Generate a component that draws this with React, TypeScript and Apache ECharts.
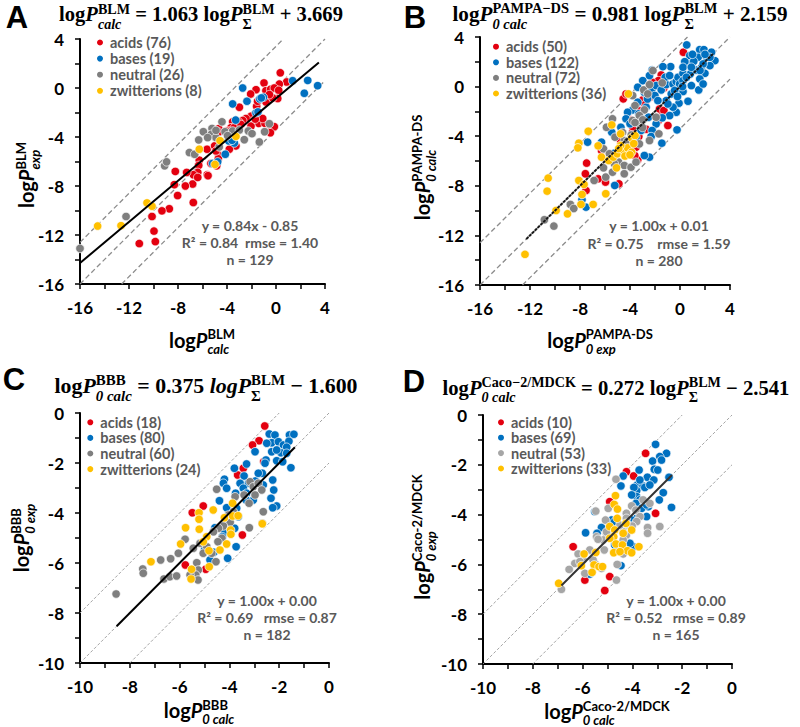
import React, { useEffect, useRef } from 'react';
import * as echarts from 'echarts';

// ---------------- DATA ----------------
// Panel A  (x: logP calc BLM, y: logP exp BLM)
const aAcids = [[0.35,1.24],[0.87,0.49],[0.27,0.32],[-0.98,0.41],[-1.63,-0.14],[-2.07,-0.49],[-0.82,-0.22],[-0.44,-0.11],[-0.14,0],[0.22,-0.19],[0.14,-0.86],[-0.82,-1.14],[-1.58,-1.49],[-2.99,-1.57],[-2.04,-2.3],[-2.45,-2.49],[-2.72,-2.65],[-3.05,-2.76],[-3.54,-2.76],[-3.67,-3.24],[-3.81,-3.51],[-3.4,-3.24],[-2.86,-2.97],[-1.41,-2.89],[-0.9,-2.89],[-0.46,-3.05],[-0.14,-3.16],[-0.46,-3.65],[-2.04,-3.11],[-3.92,-3.78],[-4.68,-3.32],[-4.68,-3.59],[-4.08,-3.51],[-5.63,-5],[-5.01,-4.73],[-4.68,-5.46],[-4.71,-5.78],[-4.84,-6.35],[-5.31,-6.16],[-3.27,-4.73],[-3.81,-5],[-6.26,-5.89],[-6.31,-6.32],[-6.39,-6.89],[-6.75,-7.08],[-6.8,-7.84],[-7.29,-6.89],[-5.61,-7.08],[-5.55,-7.16],[-8.22,-6.81],[-8.3,-7.89],[-8.03,-8.78],[-7.4,-8],[-6.75,-9.35],[-8.71,-9.86],[-9.31,-10.03],[-10.12,-10.49],[-9.96,-11.68],[-9.85,-12.54],[-11.16,-12.7],[-1.09,-2.49],[-0.27,-0.81],[-0.54,-0.54],[-1.69,-2.54],[-4.9,-5.14],[-6.39,-7.3],[-1.5,-1.08]];
const aBases = [[-2.72,0],[-3.54,-1.3],[-2.37,-1.08],[-1.33,-0.89],[-1.03,-0.76],[-1.63,-2.03],[-3.29,-2.62],[-3.4,-4.49],[-4.14,-5.41],[-5.17,-6.16],[-4.76,-6.03],[1.36,0.59],[2.59,0.62],[2.31,-0.43],[3.4,0.19],[-3.86,-4.32],[-1.2,-0.81],[-3.59,-4.27],[-1.47,-1.95]];
const aNeutral = [[-16,-13.1],[-12.24,-10.49],[-9.09,-6.35],[-8.93,-6.03],[-7.07,-5.27],[-6.64,-5.41],[-6.31,-4.24],[-5.93,-3.57],[-5.22,-3.3],[-5.28,-3.78],[-4.41,-2.76],[-4.16,-3.57],[-3.54,-3.51],[-2.99,-3.43],[-2.59,-4.22],[-2.26,-3.51],[-1.96,-3.73],[-1.36,-4.41],[-0.93,-3.57],[-0.54,-2.92],[-4.9,-4.05],[-4.63,-4.81],[-3.95,-3.89],[-4.9,-3.46],[-5.58,-4.05]];
const aZwit = [[-14.56,-11.27],[-12.65,-11.24],[-10.53,-9.38],[-10.12,-9.65],[-6.26,-5],[-4.57,-4.3],[-3.27,-3.95],[-4.98,-6.24]];
const aFit = [[-16,-14.29],[3.5,2.09]];
const aBand = 3.4;
const aNames = ['acids (76)','bases (19)','neutral (26)','zwitterions (8)'];
const aStats = ['y = 0.84x - 0.85','R² = 0.84\u00a0 rmse = 1.40','n = 129'];

// Panel B  (x: logP0 exp PAMPA-DS, y: logP0 calc PAMPA-DS)
const bAcids = [[0.27,2.77],[-1.5,0.94],[-1.72,0.48],[-2.23,0.35],[-1.29,-0.11],[-2.98,-1.07],[-4.54,-0.99],[-4.32,-0.59],[-3.97,-2.68],[-3.25,-1.93],[-2.79,-1.45],[-2.71,-3.44],[-3.79,-3.68],[-3.3,-4.03],[-3.52,-4.89],[-3.38,-5.91],[-3.62,-5.56],[-7.47,-6.17],[-7.57,-7.03],[-7.52,-8.38],[-6.28,-5.15],[-5.96,-7.7],[-4.89,-7.84],[-1.37,-2.2],[-1.72,-2.74],[-0.97,-3.14],[-1.64,-1.8],[-4.75,-4.35],[-4.35,-4.75],[-3.79,-3.22],[-2.77,-0.59],[-2.44,-0.86],[-1.29,-1.93],[-6.55,-7.44],[-4.05,-2.74]];
const bBases = [[0.54,3.36],[1.58,2.98],[1.91,2.98],[2.52,2.77],[2.79,2.09],[2.12,2.36],[1.45,2.36],[0.78,2.5],[0.64,1.83],[0.38,2.01],[-0.75,1.61],[-1.37,1.61],[-2.23,1.34],[-2.44,0.89],[-2.98,0.48],[-3.38,-0.05],[-2.85,-0.46],[-2.26,-0.24],[-1.91,0.08],[-1.5,-0.27],[-1.1,0.16],[-0.56,0.21],[-0.3,0.4],[-0.16,0.75],[0.24,1.07],[0.83,1.02],[1.32,1.34],[1.72,1.56],[1.99,1.07],[2.39,1.69],[1.58,0.62],[1.5,-0.27],[0.64,-1.18],[-0.08,-1.34],[-0.3,-2.07],[-0.83,-2.34],[-1.42,-2.52],[-1.91,-3.01],[-2.23,-3.54],[-2.31,-4.03],[-1.45,-4.56],[-0.24,-3.49],[0.24,-0.4],[0.91,0.08],[-0.56,-1.66],[-1.1,-1.13],[-0.7,-0.59],[-2.71,-1.66],[-3.38,-1.26],[-3.79,-1.88],[-4.19,-2.07],[-4.73,-3.28],[-5.46,-3.68],[-5.25,-5.37],[-4.32,-2.6],[-2.98,-2.6],[-2.44,-5.69],[-2.85,-5.56],[-6.28,-4.48],[-7.39,-4.48],[-7.84,-9.13],[-7.52,-9.72],[-5.22,-7.97],[-3.52,-4.08],[-3.11,-3.54],[1.85,1.83],[1.1,2.04],[0.24,1.56],[-1.18,0.75],[-2.01,-0.72],[2.39,2.36],[0.91,1.56],[-0.03,0.21],[0.24,0.48],[-0.83,0.89],[-0.43,-0.32],[1.85,0.21],[0.51,0.75],[-0.97,-1.4],[-1.77,-1.13],[-2.52,-2.47],[-4.0,-3.0],[-3.3,-2.2],[-2.6,-1.0],[1.0,2.6],[2.0,2.6],[1.6,1.3],[0.2,0.0],[-0.2,-0.8]];
const bNeutral = [[-2.17,1.29],[-1.42,0.3],[-2.9,-0.27],[-3.79,-0.72],[-3.6,-1.53],[-2.85,-1.88],[-3.25,-2.34],[-3.79,-2.74],[-5.4,-2.6],[-5.88,-3.28],[-5.2,-4.08],[-4.46,-4.35],[-3.25,-4.62],[-2.44,-4.35],[-1.69,-3.81],[-6.12,-5.02],[-5.4,-5.69],[-6.12,-6.55],[-5.94,-7.3],[-5.4,-6.9],[-4.91,-6.09],[-4.46,-6.36],[-3.92,-6.5],[-4.46,-7.03],[-6.87,-7.57],[-8.77,-9.5],[-8.5,-9.83],[-10.85,-10.74],[-10.09,-11.25],[-4.81,-5.29],[-3.25,-3.01],[-2.98,-2.68],[-4.05,-5.37],[-3.52,-6.09],[-5.25,-6.23],[-5.65,-5.42],[-1.91,-2.47],[-2.44,0.16],[-2.58,-0.59],[-4.2,-4.4],[-3.9,-3.9],[-4.6,-3.7],[-3.0,-3.3],[-3.6,-2.9]];
const bZwit = [[-4.13,-0.59],[-5.46,-3.09],[-4.75,-3.81],[-7.34,-3.6],[-8.09,-4.56],[-8.17,-4.94],[-6.55,-4.78],[-6.28,-5.69],[-5.7,-5.96],[-5.34,-5.69],[-5.03,-5.42],[-4.56,-5.1],[-4.19,-4.94],[-3.87,-5.29],[-3.87,-4.13],[-3.6,-3.95],[-10.55,-7.38],[-10.63,-8.43],[-9.91,-9.99],[-9,-10.26],[-8.09,-7.57],[-7.68,-7.89],[-7.84,-8.7],[-7.92,-9.5],[-6.95,-9.5],[-5.94,-8.64],[-12.4,-13.53],[-5.08,-6.55],[-4.75,-4.75],[-4.4,-5.6],[-4.0,-5.5],[-3.7,-4.6],[-4.9,-5.0]];
const bFit = [[-12.3,-12.3],[2.7,2.7]];
const bBand = 3.4;
const bNames = ['acids (50)','bases (122)','neutral (72)','zwitterions (36)'];
const bStats = ['y = 1.00x + 0.01','R² = 0.75\u00a0\u00a0\u00a0 rmse = 1.59','n = 280'];

// Panel C  (x: logP0 calc BBB, y: logP0 exp BBB)
const cAcids = [[-2.58,-0.52],[-2.81,-1.11],[-3.07,-1.28],[-2.62,-1.95],[-3.44,-2.21],[-3.67,-2.48],[-5.05,-3.72],[-5.49,-3.99],[-3.48,-4.88],[-5.77,-6.08],[-4.95,-6.25]];
const cBases = [[-2.4,-0.84],[-2.17,-0.88],[-1.59,-0.88],[-1.41,-0.85],[-2.3,-1.19],[-2.03,-1.15],[-1.83,-1.28],[-1.61,-1.13],[-1.7,-1.37],[-1.93,-1.59],[-2.3,-1.55],[-2.53,-1.88],[-2.1,-1.91],[-1.86,-1.95],[-1.53,-2.19],[-2.97,-1.55],[-3.31,-2.04],[-3.41,-2.52],[-2.68,-2.41],[-2.95,-2.72],[-3.24,-2.81],[-3.57,-2.81],[-3.8,-2.21],[-4.2,-2.65],[-4.24,-2.81],[-4.11,-3.01],[-3.75,-3.21],[-3.44,-3.01],[-3.31,-3.21],[-3.04,-3.48],[-2.26,-2.68],[-2.22,-3.08],[-2.64,-2.88],[-2.33,-3.41],[-2.1,-3.72],[-2.26,-3.79],[-4.4,-3.51],[-4.11,-3.79],[-3.71,-3.81],[-3.64,-4.15],[-4.58,-4.59],[-3.79,-4.61],[-4.19,-4.77],[-4.28,-4.95],[-4.07,-5.81],[-3.73,-5.35],[-4.62,-5.57],[-4.99,-5.45],[-4.78,-5.88],[-3.33,-3.48],[-2.57,-2.01],[-2.1,-1.48],[-1.7,-1.61],[-2.5,-1.21],[-2.84,-2.41]];
const cNeutral = [[-4.51,-3.05],[-3.77,-3.35],[-3.17,-2.75],[-3.04,-2.95],[-2.84,-2.81],[-2.7,-3.08],[-2.97,-3.28],[-3.21,-3.61],[-2.64,-3.95],[-2.68,-4.41],[-3.41,-3.28],[-3.84,-3.95],[-4.04,-4.08],[-3.97,-4.37],[-4.24,-4.52],[-4.44,-4.61],[-4.64,-4.75],[-4.3,-5.01],[-4.46,-5.15],[-4.91,-5.35],[-5.18,-5.21],[-5.45,-5.41],[-4.71,-5.61],[-4.54,-5.95],[-5.05,-5.61],[-5.31,-5.99],[-5.25,-6.28],[-5.35,-6.48],[-5.58,-6.48],[-5.78,-5.05],[-6.05,-5.61],[-6.36,-5.83],[-6.76,-5.88],[-7.48,-6.24],[-7.46,-6.41],[-6.63,-6.64],[-6.39,-6.55],[-6.12,-6.52],[-5.26,-6.68],[-8.55,-7.24],[-3.2,-4.59]];
const cZwit = [[-4.65,-3.88],[-5.22,-3.99],[-5.22,-4.25],[-5.76,-4.59],[-5.21,-4.65],[-5.96,-5.24],[-4.91,-4.95],[-5.05,-5.15],[-4.82,-5.51],[-4.38,-5.48],[-4.11,-5.24],[-3.95,-4.68],[-3.94,-4.85],[-4.2,-4.19],[-3.87,-4.12],[-3.65,-4.11],[-3.87,-3.61],[-5.52,-6.25],[-5.54,-6.64],[-4.81,-6.15],[-2.68,-4.43],[-7.15,-5.95]];
const cFit = [[-8.53,-8.53],[-1.37,-1.37]];
const cBand = 2;
const cNames = ['acids (18)','bases (80)','neutral (60)','zwitterions (24)'];
const cStats = ['y = 1.00x + 0.00','R² = 0.69\u00a0\u00a0 rmse = 0.87','n = 182'];

// Panel D  (x: logP0 calc Caco-2/MDCK, y: logP0 exp Caco-2/MDCK)
const dAcids = [[-3.47,-1.54],[-4.24,-2.28],[-3.95,-2.45],[-4.91,-3.48],[-3.07,-3.95],[-6.38,-5.29],[-5.91,-6.63],[-4.91,-6.49],[-5.11,-7.05]];
const dBases = [[-3.07,-1.18],[-2.63,-1.54],[-2.9,-1.67],[-3.19,-1.85],[-2.83,-1.81],[-3.73,-2.21],[-3.12,-2.18],[-2.98,-2.21],[-4.37,-2.45],[-2.53,-2.5],[-3.4,-2.5],[-3.81,-2.81],[-3.57,-2.85],[-3.14,-2.61],[-2.76,-3.12],[-4.46,-2.85],[-3.83,-3.04],[-3.83,-3.28],[-3.7,-3.41],[-3.86,-3.55],[-2.92,-3.41],[-2.43,-3.71],[-3.36,-3.68],[-3.63,-3.75],[-3.43,-4.08],[-3.83,-4.15],[-4.03,-4.22],[-4.84,-4.22],[-5.24,-4.52],[-5.51,-3.88],[-5.42,-4.75],[-5.88,-4.73],[-4.71,-4.48],[-4.71,-5.22],[-3.97,-5.29],[-4.46,-6.05],[-5.71,-6.39],[-3.43,-3.61],[-3.94,-2.91],[-3.5,-2.91],[-3.3,-2.81],[-3.7,-2.61],[-4.03,-3.21],[-4.71,-4.28],[-4.1,-5.15]];
const dNeutral = [[-4.66,-2.58],[-4.97,-3.75],[-5.47,-3.86],[-5.08,-4.22],[-5.04,-4.78],[-4.24,-3.95],[-4.03,-3.65],[-3.86,-3.82],[-3.57,-3.41],[-3.3,-3.55],[-3.7,-4.08],[-4.17,-4.42],[-4.37,-4.69],[-4.24,-4.82],[-3.83,-4.28],[-3.39,-4.52],[-3.39,-4.75],[-2.9,-4.48],[-5.44,-4.89],[-4.88,-4.75],[-5.17,-5.02],[-4.37,-5.58],[-4.61,-6.0],[-6.18,-5.58],[-5.98,-5.82],[-6.31,-5.96],[-6.54,-6.2],[-5.91,-6.36],[-5.51,-5.96],[-5.24,-6.16],[-5.13,-5.42],[-4.64,-6.63],[-6.85,-7.0],[-4.24,-4.15],[-4.01,-4.46],[-4.5,-4.42],[-4.37,-5.02],[-5.38,-4.99],[-5.71,-5.42],[-6.11,-5.89],[-5.58,-5.82],[-5.04,-4.69]];
const dZwit = [[-4.68,-3.24],[-4.73,-3.59],[-4.6,-3.78],[-4.61,-4.15],[-4.91,-4.48],[-4.26,-4.35],[-4.03,-4.62],[-4.71,-4.62],[-4.75,-4.89],[-4.66,-5.18],[-4.4,-5.22],[-3.74,-5.29],[-4.2,-5.45],[-4.03,-5.53],[-4.75,-5.53],[-5.94,-5.58],[-5.47,-5.52],[-6.05,-6.05],[-5.54,-6.02],[-5.34,-6.09],[-5.2,-6.09],[-5.62,-6.32],[-6.96,-6.76],[-4.5,-5.49],[-4.91,-4.95],[-4.37,-4.75]];
const dFit = [[-6.85,-6.85],[-2.41,-2.41]];
const dBand = 2;
const dNames = ['acids (10)','bases (69)','neutral (53)','zwitterions (33)'];
const dStats = ['y = 1.00x + 0.00','R² = 0.52\u00a0\u00a0 rmse = 0.89','n = 165'];

// ---------------- STYLE / LAYOUT ----------------
const SANS = 'Lato';
const SERIF = '"Liberation Serif"';
const RED = '#e3000f';
const BLUE = '#0070c0';
const YELLOW = '#ffc000';

type Piece = { t: string; f: string; dy?: number; stack?: boolean; fill?: string };

function buildOption() {
  const ctx = document.createElement('canvas').getContext('2d') as CanvasRenderingContext2D;
  const tw = (t: string, f: string) => { ctx.font = f; return ctx.measureText(t).width; };

  const row = (pieces: Piece[]) => {
    let x = 0; let pend = 0; const children: any[] = [];
    for (const p of pieces) {
      const w = tw(p.t, p.f);
      children.push({
        type: 'text', x, y: p.dy || 0, silent: true,
        style: { text: p.t, font: p.f, fill: p.fill || '#000', textAlign: 'left', textVerticalAlign: 'middle', align: 'left', verticalAlign: 'middle' },
      });
      if (p.stack) pend = Math.max(pend, w);
      else { x += Math.max(pend, w); pend = 0; }
    }
    return { children, width: x };
  };
  const rowGroup = (pieces: Piece[], cx: number, cy: number, targetW?: number, rotate?: boolean) => {
    const { children, width } = row(pieces);
    const s = targetW ? targetW / width : 1;
    if (rotate) return { type: 'group', x: cx, y: cy + (width * s) / 2, rotation: Math.PI / 2, scaleX: s, scaleY: s, children };
    return { type: 'group', x: cx - (width * s) / 2, y: cy, scaleX: s, scaleY: s, children };
  };

  const TM = `bold 19px ${SERIF}`, TMI = `italic bold 19px ${SERIF}`, TS = `bold 13px ${SERIF}`, TSI = `italic bold 13px ${SERIF}`;
  const titlePieces = (sup: string, sub: string, coef: string, tail: string, italicLog = false): Piece[] => [
    { t: 'log', f: TM }, { t: 'P', f: TMI },
    { t: sup, f: TS, dy: -5, stack: true }, { t: sub, f: TSI, dy: 9 },
    { t: ` = ${coef} `, f: TM },
    { t: 'log', f: italicLog ? TMI : TM }, { t: 'P', f: TMI },
    { t: 'BLM', f: TS, dy: -5, stack: true }, { t: 'Σ', f: TS, dy: 9 },
    { t: tail, f: TM },
  ];
  const AM = `bold 20px ${SANS}`, AMI = `italic bold 20px ${SANS}`, AS = `bold 13px ${SANS}`, ASI = `italic bold 13px ${SANS}`;
  const axisPieces = (sup: string, sub: string): Piece[] => [
    { t: 'log', f: AM }, { t: 'P', f: AMI },
    { t: sup, f: AS, dy: -5.5, stack: true }, { t: sub, f: ASI, dy: 9 },
  ];

  const panels = [
    { grid: { left: 80, top: 39, width: 245, height: 245 }, min: -16, max: 4, step: 2, lab: 4,
      data: [aAcids, aBases, aNeutral, aZwit], names: aNames, gray: '#7f7f7f', fit: aFit, fitColor: '#000', fitType: 'solid' as any,
      band: aBand, bandColor: '#8c8c8c', bandW: 1.3, bandDash: [5, 3],
      legend: { x: 99, y: 42.5, lh: 16.1 }, stats: { x: 250, y: 225, lines: aStats } },
    { grid: { left: 480, top: 37, width: 250, height: 248 }, min: -16, max: 4, step: 2, lab: 4,
      data: [bAcids, bBases, bNeutral, bZwit], names: bNames, gray: '#7f7f7f', fit: bFit, fitColor: '#1a1a1a', fitType: [3, 1] as any,
      band: bBand, bandColor: '#8c8c8c', bandW: 1.3, bandDash: [5, 3],
      legend: { x: 495, y: 46.7, lh: 15.6 }, stats: { x: 659, y: 225.7, lines: bStats } },
    { grid: { left: 80, top: 413, width: 249, height: 250 }, min: -10, max: 0, step: 1, lab: 2,
      data: [cAcids, cBases, cNeutral, cZwit], names: cNames, gray: '#7f7f7f', fit: cFit, fitColor: '#000', fitType: 'solid' as any,
      band: cBand, bandColor: '#9a9a9a', bandW: 0.9, bandDash: [3, 2],
      legend: { x: 89.3, y: 422.3, lh: 15.6 }, stats: { x: 267, y: 600, lines: cStats } },
    { grid: { left: 483, top: 415, width: 249, height: 249 }, min: -10, max: 0, step: 1, lab: 2,
      data: [dAcids, dBases, dNeutral, dZwit], names: dNames, gray: '#a6a6a6', fit: dFit, fitColor: '#333', fitType: 'solid' as any,
      band: dBand, bandColor: '#9a9a9a', bandW: 0.9, bandDash: [3, 2],
      legend: { x: 500, y: 422.3, lh: 15.4 }, stats: { x: 676, y: 600, lines: dStats } },
  ];

  const grids: any[] = [], xAxes: any[] = [], yAxes: any[] = [], series: any[] = [], legends: any[] = [], graphic: any[] = [];
  panels.forEach((p, i) => {
    grids.push({ ...p.grid, containLabel: false });
    const common = (pos: string) => ({
      type: 'value', gridIndex: i, min: p.min, max: p.max, interval: p.step, position: pos,
      axisLine: { show: true, onZero: false, lineStyle: { color: '#000', width: 2 } },
      axisTick: { show: true, inside: false, length: 5, lineStyle: { color: '#000', width: 1.5 } },
      splitLine: { show: false },
      axisLabel: {
        margin: pos === 'bottom' ? 15 : 16, fontFamily: SANS, fontWeight: 'bold', fontSize: 17, color: '#000',
        showMinLabel: true, showMaxLabel: true,
        formatter: (v: number) => (Math.abs(v % p.lab) < 1e-9 ? String(v) : ''),
      },
    });
    xAxes.push(common('bottom'));
    yAxes.push(common('left'));
    const colors = [RED, BLUE, p.gray, YELLOW];
    // reference bands (y = x + b, y = x, y = x - b)
    const b = p.band;
    const bands = [
      [[p.min, p.min + b], [p.max - b, p.max]],
      [[p.min, p.min], [p.max, p.max]],
      [[p.min + b, p.min], [p.max, p.max - b]],
    ];
    bands.forEach((d, k) => series.push({
      type: 'line', name: `band${i}-${k}`, xAxisIndex: i, yAxisIndex: i, data: d, symbol: 'none', silent: true, z: 1,
      lineStyle: { color: p.bandColor, width: p.bandW, type: p.bandDash },
    }));
    p.data.forEach((d, k) => series.push({
      type: 'scatter', name: p.names[k], xAxisIndex: i, yAxisIndex: i, data: d, symbol: 'circle', symbolSize: 8.5, z: 3,
      itemStyle: { color: colors[k], borderColor: '#ffffff', borderWidth: 0.7, opacity: 1 },
    }));
    series.push({
      type: 'line', name: `fit${i}`, xAxisIndex: i, yAxisIndex: i, data: p.fit, symbol: 'none', silent: true, z: 5,
      lineStyle: { color: p.fitColor, width: 2, type: p.fitType },
    });
    legends.push({
      orient: 'vertical', left: p.legend.x - 4, top: p.legend.y - p.legend.lh / 2, padding: 0, itemGap: 0,
      itemWidth: 8, itemHeight: 8, icon: 'circle', selectedMode: false, data: p.names,
      textStyle: { fontFamily: SANS, fontWeight: 'bold', fontSize: 14.5, color: '#595959', lineHeight: p.legend.lh, padding: [0, 0, 0, 1] },
    });
    p.stats.lines.forEach((t, k) => graphic.push({
      type: 'text', x: p.stats.x, y: p.stats.y + k * 17.4, silent: true,
      style: { text: t, font: `bold 14px ${SANS}`, fill: '#595959', textAlign: 'center', textVerticalAlign: 'middle', align: 'center', verticalAlign: 'middle' },
    }));
  });

  // panel letters
  [['A', 17, 17.5], ['B', 415, 17.5], ['C', 14, 379], ['D', 414, 381]].forEach(([t, x, y]) => graphic.push({
    type: 'text', x, y, silent: true,
    style: { text: t, font: 'bold 31px "Liberation Sans"', fill: '#000', textAlign: 'center', textVerticalAlign: 'middle', align: 'center', verticalAlign: 'middle' },
  }));
  // formula titles
  graphic.push(rowGroup(titlePieces('BLM', 'calc', '1.063', ' + 3.669'), 201, 14, 284));
  graphic.push(rowGroup(titlePieces('PAMPA−DS', '0 calc', '0.981', ' + 2.159'), 620, 14, 335));
  graphic.push(rowGroup(titlePieces('BBB', '0 calc', '0.375', ' − 1.600', true), 206, 386, 303));
  graphic.push(rowGroup(titlePieces('Caco−2/MDCK', '0 calc', '0.272', ' − 2.541'), 616, 387.5, 347));
  // x axis titles
  graphic.push(rowGroup(axisPieces('BLM', 'calc'), 202, 339.5));
  graphic.push(rowGroup(axisPieces('PAMPA-DS', '0 exp'), 600, 339.5));
  graphic.push(rowGroup(axisPieces('BBB', '0 calc'), 199, 710));
  graphic.push(rowGroup(axisPieces('Caco-2/MDCK', '0 calc'), 607, 711));
  // y axis titles (rotated)
  graphic.push(rowGroup(axisPieces('BLM', 'exp'), 26, 175, undefined, true));
  graphic.push(rowGroup(axisPieces('PAMPA-DS', '0 calc'), 422, 167.5, undefined, true));
  graphic.push(rowGroup(axisPieces('BBB', '0 exp'), 21, 538, undefined, true));
  graphic.push(rowGroup(axisPieces('Caco-2/MDCK', '0 exp'), 422, 537, undefined, true));

  return {
    animation: false,
    backgroundColor: '#ffffff',
    grid: grids, xAxis: xAxes, yAxis: yAxes, series, legend: legends, graphic,
  };
}

export default function App() {
  const ref = useRef<HTMLDivElement>(null);
  useEffect(() => {
    const chart = echarts.init(ref.current as HTMLDivElement, null, { renderer: 'svg' });
    chart.setOption(buildOption() as any);
    return () => chart.dispose();
  }, []);
  return <div ref={ref} style={{ position: 'absolute', left: 0, top: 0, width: 800, height: 727, background: '#fff' }} />;
}
